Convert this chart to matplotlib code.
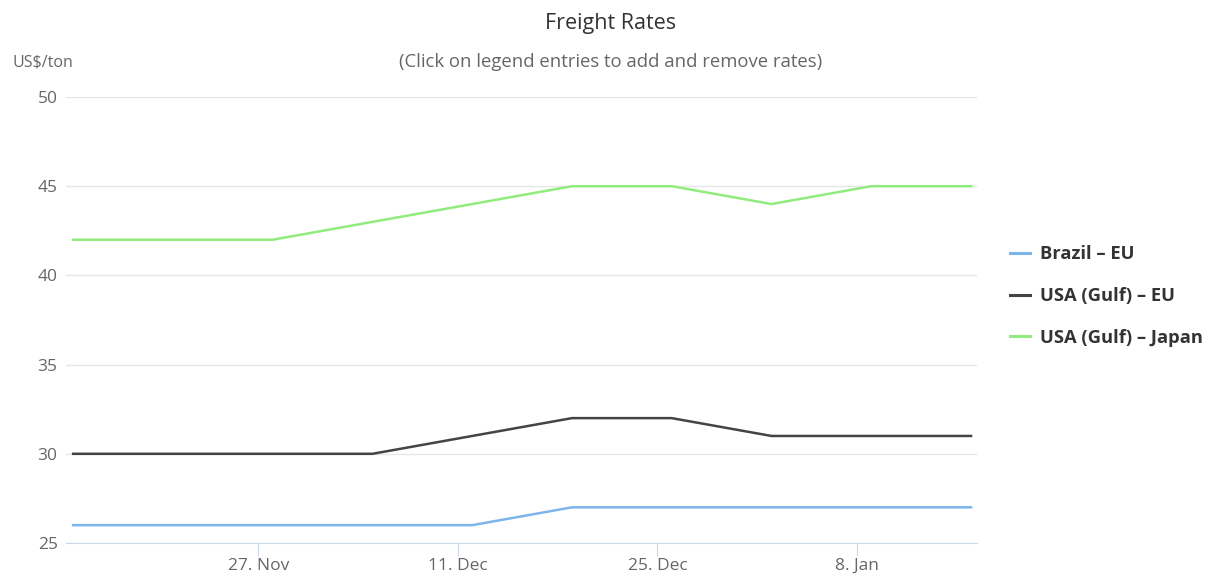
import datetime as dt
import matplotlib
matplotlib.use('Agg')
import matplotlib.pyplot as plt
import matplotlib.dates as mdates

plt.rcParams['font.family'] = ['Open Sans', 'DejaVu Sans']

# Datos semanales
fechas = [dt.date(2019, 11, 14) + dt.timedelta(days=7 * i) for i in range(10)]
brazil_eu = [26, 26, 26, 26, 26, 27, 27, 27, 27, 27]
usa_eu = [30, 30, 30, 30, 31, 32, 32, 31, 31, 31]
usa_japan = [42, 42, 42, 43, 44, 45, 45, 44, 45, 45]

series = [
    ('Brazil – EU', brazil_eu, '#7cb5ec'),
    ('USA (Gulf) – EU', usa_eu, '#434348'),
    ('USA (Gulf) – Japan', usa_japan, '#90ed7d'),
]
ticks_x = [dt.date(2019, 11, 27), dt.date(2019, 12, 11), dt.date(2019, 12, 25), dt.date(2020, 1, 8)]
ticks_y = [25, 30, 35, 40, 45, 50]

W, H = 1205, 574
fig = plt.figure(figsize=(W / 100, H / 100), dpi=100)
ax = fig.add_axes([66 / W, (H - 543) / H, (977 - 66) / W, (543 - 97) / H])

for nombre, valores, color in series:
    ax.plot(fechas, valores, color=color, lw=1.8, label=nombre, solid_joinstyle='round')

ax.set_xlim(dt.datetime(2019, 11, 13, 12), dt.datetime(2020, 1, 16, 10))
ax.set_ylim(25, 50)
ax.set_yticks(ticks_y)
ax.set_xticks(ticks_x)
ax.xaxis.set_major_formatter(mdates.DateFormatter('%-d. %b'))

ax.grid(axis='y', color='#e6e6e6', lw=1)
ax.set_axisbelow(True)
for s in ['top', 'right', 'left']:
    ax.spines[s].set_visible(False)
ax.spines['bottom'].set_color('#ccd6eb')
ax.tick_params(axis='y', length=0, labelsize=12.5, labelcolor='#666666', pad=6)
ax.tick_params(axis='x', length=9, color='#ccd6eb', labelsize=12.5, labelcolor='#666666', pad=2)

fig.text(611 / W, 1 - 23 / H, 'Freight Rates', ha='center', va='center', fontsize=15.5, color='#333333')
fig.text(611 / W, 1 - 62 / H, '(Click on legend entries to add and remove rates)', ha='center', va='center',
         fontsize=13.3, color='#666666')
fig.text(12 / W, 1 - 63 / H, 'US$/ton', ha='left', va='center', fontsize=11.5, color='#666666')

leg = ax.legend(loc='center left', bbox_to_anchor=(1010 / W, 1 - 296 / H), bbox_transform=fig.transFigure,
                frameon=False, handlelength=1.1, handletextpad=0.55, labelspacing=1.3,
                borderpad=0, borderaxespad=0, prop={'weight': 'bold', 'size': 13.2})
for t in leg.get_texts():
    t.set_color('#333333')
for l in leg.get_lines():
    l.set_linewidth(2.2)

fig.savefig('out.png', dpi=100)
